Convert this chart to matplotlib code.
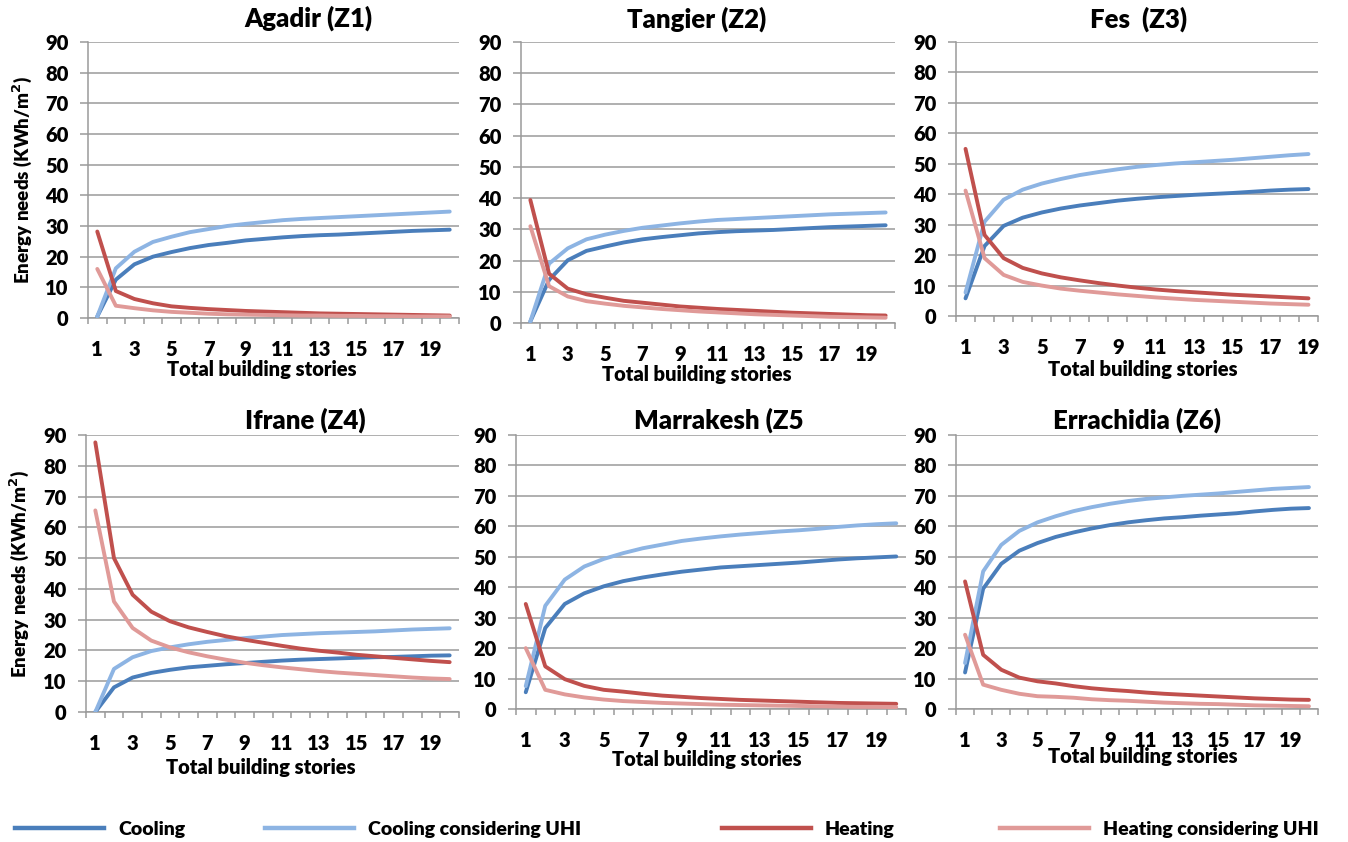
import numpy as np
import matplotlib
matplotlib.use('Agg')
import matplotlib.pyplot as plt
from matplotlib.lines import Line2D

plt.rcParams['font.family'] = ['Lato', 'DejaVu Sans']
plt.rcParams['font.weight'] = 'heavy'
WEIGHT = 'heavy'

# Energy needs (kWh/m2) per number of building stories
agadir_cool = [0.5, 12.5, 17.5, 20.0, 21.5, 22.8, 23.8, 24.5, 25.3, 25.8,
               26.3, 26.7, 27.0, 27.2, 27.5, 27.8, 28.1, 28.4, 28.6, 28.8]
agadir_cool_uhi = [0.5, 16.2, 21.6, 24.8, 26.5, 28.0, 29.0, 30.0, 30.7, 31.3,
                   31.9, 32.3, 32.6, 32.9, 33.2, 33.5, 33.8, 34.1, 34.4, 34.7]
agadir_heat = [28.2, 8.8, 6.2, 4.8, 3.8, 3.3, 2.9, 2.6, 2.3, 2.1,
               1.9, 1.7, 1.5, 1.4, 1.3, 1.2, 1.1, 1.0, 0.9, 0.8]
agadir_heat_uhi = [16.0, 4.0, 3.2, 2.5, 2.0, 1.7, 1.4, 1.2, 1.1, 1.0,
                   0.9, 0.8, 0.8, 0.7, 0.7, 0.6, 0.6, 0.5, 0.5, 0.5]

tangier_cool = [0.5, 13.8, 20.1, 23.1, 24.5, 25.8, 26.8, 27.5, 28.1, 28.7,
                29.1, 29.4, 29.6, 29.8, 30.1, 30.4, 30.7, 30.9, 31.1, 31.3]
tangier_cool_uhi = [0.5, 19.0, 23.9, 26.8, 28.3, 29.5, 30.5, 31.2, 31.9, 32.5,
                    33.0, 33.3, 33.6, 33.9, 34.2, 34.5, 34.8, 35.0, 35.2, 35.4]
tangier_heat = [39.4, 15.8, 11.0, 9.2, 8.1, 7.1, 6.5, 5.9, 5.3, 4.9,
                4.5, 4.2, 3.9, 3.6, 3.3, 3.1, 2.9, 2.7, 2.5, 2.4]
tangier_heat_uhi = [31.0, 11.8, 8.5, 7.0, 6.2, 5.5, 5.0, 4.5, 4.1, 3.7,
                    3.4, 3.1, 2.8, 2.6, 2.4, 2.2, 2.0, 1.9, 1.8, 1.7]

fes_cool = [5.8, 23.0, 29.6, 32.3, 34.0, 35.3, 36.3, 37.1, 37.9, 38.5,
            39.0, 39.4, 39.8, 40.1, 40.4, 40.8, 41.2, 41.5, 41.7]
fes_cool_uhi = [7.7, 31.0, 38.2, 41.5, 43.5, 45.0, 46.3, 47.3, 48.2, 49.0,
                49.6, 50.1, 50.5, 50.9, 51.3, 51.8, 52.3, 52.8, 53.2]
fes_heat = [54.9, 26.6, 19.0, 15.8, 14.0, 12.7, 11.7, 10.8, 10.0, 9.3,
            8.7, 8.2, 7.8, 7.4, 7.0, 6.7, 6.4, 6.1, 5.8]
fes_heat_uhi = [41.2, 19.0, 13.5, 11.2, 10.0, 9.0, 8.3, 7.7, 7.1, 6.6,
                6.1, 5.7, 5.3, 5.0, 4.7, 4.4, 4.1, 3.9, 3.7]

ifrane_cool = [0.0, 8.0, 11.2, 12.7, 13.7, 14.5, 15.0, 15.5, 15.9, 16.3,
               16.7, 17.0, 17.2, 17.4, 17.6, 17.8, 17.9, 18.1, 18.3, 18.4]
ifrane_cool_uhi = [0.0, 14.0, 17.8, 19.8, 21.0, 22.0, 22.8, 23.4, 24.0, 24.5,
                   25.0, 25.3, 25.6, 25.8, 26.0, 26.2, 26.5, 26.8, 27.0, 27.2]
ifrane_heat = [87.6, 50.0, 38.1, 32.6, 29.5, 27.5, 26.0, 24.6, 23.5, 22.5,
               21.5, 20.6, 19.9, 19.3, 18.6, 18.1, 17.6, 17.1, 16.6, 16.2]
ifrane_heat_uhi = [65.5, 35.9, 27.3, 23.2, 21.0, 19.4, 18.1, 17.0, 16.0, 15.2,
                   14.5, 13.9, 13.3, 12.8, 12.4, 12.0, 11.6, 11.2, 10.9, 10.7]

marrakesh_cool = [5.5, 26.6, 34.5, 38.0, 40.3, 42.0, 43.2, 44.2, 45.1, 45.8,
                  46.5, 46.9, 47.3, 47.7, 48.1, 48.6, 49.1, 49.5, 49.8, 50.1]
marrakesh_cool_uhi = [7.5, 33.9, 42.5, 46.8, 49.3, 51.2, 52.8, 54.0, 55.2, 56.0,
                      56.7, 57.3, 57.8, 58.3, 58.7, 59.2, 59.8, 60.3, 60.7, 61.0]
marrakesh_heat = [34.5, 14.0, 9.8, 7.6, 6.3, 5.7, 5.0, 4.4, 4.0, 3.6,
                  3.3, 3.0, 2.8, 2.6, 2.4, 2.2, 2.0, 1.9, 1.8, 1.7]
marrakesh_heat_uhi = [20.0, 6.3, 4.8, 3.8, 3.1, 2.6, 2.3, 2.0, 1.8, 1.6,
                      1.4, 1.3, 1.2, 1.1, 1.0, 0.9, 0.8, 0.7, 0.7, 0.6]

errachidia_cool = [12.0, 39.5, 47.7, 52.0, 54.5, 56.5, 58.0, 59.3, 60.4, 61.3,
                   62.0, 62.6, 63.0, 63.5, 63.9, 64.3, 64.9, 65.4, 65.8, 66.0]
errachidia_cool_uhi = [15.1, 45.2, 53.9, 58.5, 61.3, 63.3, 65.0, 66.3, 67.4, 68.3,
                       69.0, 69.5, 70.0, 70.4, 70.8, 71.3, 71.8, 72.3, 72.6, 72.9]
errachidia_heat = [41.9, 17.8, 12.9, 10.3, 9.1, 8.4, 7.5, 6.8, 6.3, 5.9,
                   5.4, 5.0, 4.7, 4.4, 4.1, 3.8, 3.5, 3.3, 3.1, 3.0]
errachidia_heat_uhi = [24.4, 8.0, 6.3, 5.0, 4.2, 4.0, 3.7, 3.2, 2.9, 2.7,
                       2.4, 2.1, 1.9, 1.7, 1.6, 1.4, 1.2, 1.1, 1.0, 0.9]

titles = ['Agadir (Z1)', 'Tangier (Z2)', 'Fes  (Z3)',
          'Ifrane (Z4)', 'Marrakesh (Z5', 'Errachidia (Z6)']
series_labels = ['Cooling', 'Cooling considering UHI',
                 'Heating', 'Heating considering UHI']
y_ticks = list(range(0, 91, 10))

COLORS = ['#4A7EBB', '#8DB4E3', '#C0504D', '#E09A98']
GRID = '#9A9A9A'
W, H = 1348, 842


def px_box(left, right, top, bottom):
    return [left / W, 1 - bottom / H, (right - left) / W, (bottom - top) / H]


def draw_panel(ax, series, xlabel_pos, ylabel_x=None):
    n = len(series[0])
    x = np.arange(1, n + 1)
    for vals, color in zip(series, COLORS):
        ax.plot(x, vals, color=color, lw=2.8, solid_capstyle='round', zorder=3)

    ax.set_xlim(0.5, n + 0.5)
    ax.set_ylim(0, 90)
    ax.set_yticks(y_ticks)
    ax.set_xticks(np.arange(1, n + 1, 2))
    ax.set_xticks(np.arange(0.5, n + 1, 1), minor=True)
    ax.grid(True, axis='y', color=GRID, lw=1.1, zorder=0)

    for side in ['top', 'right']:
        ax.spines[side].set_visible(False)
    for side in ['left', 'bottom']:
        ax.spines[side].set_color(GRID)
        ax.spines[side].set_linewidth(1.1)

    ax.tick_params(axis='x', which='major', length=0, pad=15.5, labelsize=14.5)
    ax.tick_params(axis='x', which='minor', length=4, width=1.1, color=GRID)
    ax.tick_params(axis='y', length=6, width=1.1, color=GRID, pad=8, labelsize=14.5)
    for lab in ax.get_xticklabels() + ax.get_yticklabels():
        lab.set_fontweight(WEIGHT)

    ax.set_xlabel('Total building stories', fontsize=14.5, fontweight=WEIGHT, va='center')
    ax.xaxis.set_label_coords(*xlabel_pos)
    if ylabel_x is not None:
        ax.set_ylabel('Energy needs (KWh/m$^\\mathbf{2}$)', fontsize=13.5,
                      fontweight=WEIGHT, va='center', ha='center')
        ax.yaxis.set_label_coords(ylabel_x, 0.5)


fig = plt.figure(figsize=(W / 100, H / 100), dpi=100)
fig.patch.set_facecolor('white')

panels = [
    (px_box(88, 459, 42, 318), [agadir_cool, agadir_cool_uhi, agadir_heat, agadir_heat_uhi],
     (0.469, -0.188), -0.178, (308, 18)),
    (px_box(521, 895, 42, 323), [tangier_cool, tangier_cool_uhi, tangier_heat, tangier_heat_uhi],
     (0.47, -0.185), None, (697, 19)),
    (px_box(956, 1318, 42, 316), [fes_cool, fes_cool_uhi, fes_heat, fes_heat_uhi],
     (0.517, -0.197), None, (1139, 19)),
    (px_box(86, 459, 435, 712), [ifrane_cool, ifrane_cool_uhi, ifrane_heat, ifrane_heat_uhi],
     (0.47, -0.199), -0.18, (305, 420)),
    (px_box(516, 906, 435, 709), [marrakesh_cool, marrakesh_cool_uhi, marrakesh_heat, marrakesh_heat_uhi],
     (0.49, -0.186), None, (719, 420)),
    (px_box(956, 1318, 435, 709), [errachidia_cool, errachidia_cool_uhi, errachidia_heat, errachidia_heat_uhi],
     (0.517, -0.175), None, (1137, 420)),
]

for (box, series, xl_pos, yl_x, tpos), title in zip(panels, titles):
    ax = fig.add_axes(box)
    draw_panel(ax, series, xl_pos, yl_x)
    fig.text(tpos[0] / W, 1 - tpos[1] / H, title, fontsize=18.5, fontweight=WEIGHT,
             ha='center', va='center')

# Legend entries placed individually along the bottom
legend_x = [15, 265, 722, 1000]
for lx, label, color in zip(legend_x, series_labels, COLORS):
    handle = Line2D([], [], color=color, lw=3.2)
    fig.legend([handle], [label], loc='center left',
               bbox_to_anchor=(lx / W, 1 - 829 / H), frameon=False,
               borderpad=0, borderaxespad=0, handlelength=4.6, handletextpad=0.7,
               prop={'weight': WEIGHT, 'size': 14})

fig.savefig('out.png', dpi=100, facecolor='white')
